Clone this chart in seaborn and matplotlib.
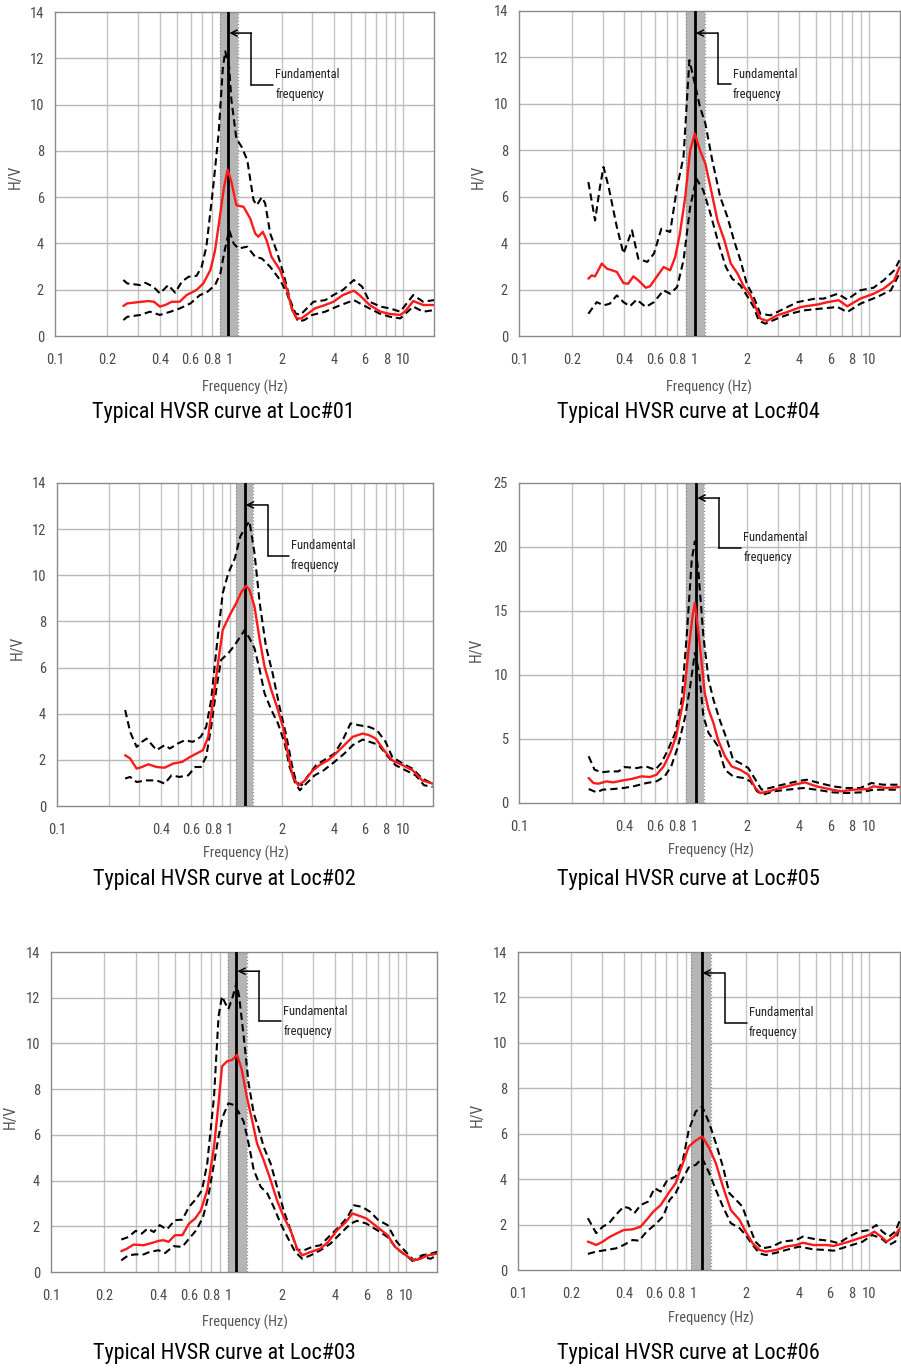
import os
import numpy as np
import matplotlib
matplotlib.use("Agg")
import matplotlib.pyplot as plt
import seaborn as sns
from matplotlib import font_manager
from matplotlib.font_manager import FontProperties
from matplotlib.ticker import FixedLocator, NullFormatter

# ---------------- DATA ----------------
x_ticks_full = [0.1, 0.2, 0.4, 0.6, 0.8, 1, 2, 4, 6, 8, 10]
x_ticks_no02 = [0.1, 0.4, 0.6, 0.8, 1, 2, 4, 6, 8, 10]
x_minor = [0.2, 0.3, 0.4, 0.5, 0.6, 0.7, 0.8, 0.9, 1, 2, 3, 4, 5, 6, 7, 8, 9, 10]

titles = ["Typical HVSR curve at Loc#01", "Typical HVSR curve at Loc#04",
          "Typical HVSR curve at Loc#02", "Typical HVSR curve at Loc#05",
          "Typical HVSR curve at Loc#03", "Typical HVSR curve at Loc#06"]

f0_values = [0.99, 1.01, 1.22, 1.03, 1.11, 1.11]
band_low = [0.89, 0.90, 1.08, 0.90, 0.99, 0.97]
band_high = [1.12, 1.16, 1.37, 1.14, 1.28, 1.25]
y_max = [14, 14, 14, 25, 14, 14]
y_step = [2, 2, 2, 5, 2, 2]

# Loc#01
loc01_f_mean = [0.247, 0.26, 0.344, 0.37, 0.40, 0.43, 0.468, 0.52, 0.57, 0.65, 0.71, 0.78, 0.83, 0.89, 0.935, 0.98, 1.03, 1.10, 1.21, 1.32, 1.41, 1.47, 1.56, 1.64, 1.75, 1.96, 2.15, 2.3, 2.45, 2.6, 2.85, 3.1, 3.56, 3.97, 4.5, 5.2, 5.6, 6.4, 7.4, 8.4, 9.6, 10.2, 11.4, 13, 15]
loc01_mean = [1.30, 1.41, 1.51, 1.48, 1.27, 1.34, 1.48, 1.48, 1.77, 1.99, 2.27, 2.85, 3.7, 5.3, 6.45, 7.19, 6.66, 5.65, 5.58, 5.08, 4.43, 4.29, 4.5, 4.14, 3.42, 2.85, 1.99, 1.12, 0.76, 0.76, 0.98, 1.19, 1.34, 1.48, 1.77, 1.96, 1.77, 1.34, 1.05, 0.95, 0.91, 1.05, 1.51, 1.34, 1.34]
loc01_f_up = [0.247, 0.26, 0.31, 0.33, 0.367, 0.40, 0.447, 0.49, 0.535, 0.585, 0.65, 0.695, 0.74, 0.81, 0.87, 0.92, 0.95, 1.0, 1.03, 1.10, 1.18, 1.27, 1.38, 1.44, 1.54, 1.61, 1.72, 1.88, 2.05, 2.24, 2.4, 2.56, 2.73, 3.05, 3.56, 3.97, 4.5, 5.2, 5.8, 6.4, 7.4, 8.4, 9.6, 11.4, 13, 15]
loc01_up = [2.42, 2.27, 2.2, 2.3, 2.13, 1.84, 2.2, 1.87, 2.35, 2.56, 2.6, 2.99, 3.86, 6.45, 8.75, 11.6, 12.3, 11.6, 10.2, 8.53, 8.17, 7.6, 5.87, 5.65, 6.0, 5.73, 4.43, 3.64, 2.7, 1.55, 0.98, 0.91, 1.12, 1.48, 1.55, 1.77, 1.99, 2.42, 2.13, 1.48, 1.27, 1.19, 1.05, 1.77, 1.48, 1.55]
loc01_f_lo = [0.247, 0.26, 0.31, 0.35, 0.40, 0.46, 0.52, 0.60, 0.68, 0.74, 0.83, 0.89, 0.935, 1.0, 1.06, 1.13, 1.27, 1.41, 1.54, 1.72, 1.96, 2.15, 2.35, 2.5, 2.7, 3.0, 3.56, 4.15, 5.2, 6.1, 7.4, 8.4, 9.6, 11.4, 13, 15]
loc01_lo = [0.69, 0.83, 0.91, 1.05, 0.91, 1.05, 1.19, 1.41, 1.77, 1.87, 2.2, 2.7, 3.57, 4.58, 4.0, 3.78, 3.86, 3.42, 3.35, 2.99, 2.42, 1.84, 0.98, 0.62, 0.69, 0.91, 1.05, 1.27, 1.55, 1.27, 0.95, 0.83, 0.76, 1.27, 1.05, 1.12]

# Loc#04
loc04_f_mean = [0.249, 0.26, 0.272, 0.297, 0.318, 0.34, 0.362, 0.395, 0.42, 0.45, 0.48, 0.53, 0.56, 0.61, 0.67, 0.73, 0.78, 0.83, 0.89, 0.95, 1.01, 1.08, 1.16, 1.24, 1.36, 1.49, 1.62, 1.77, 1.93, 2.1, 2.24, 2.39, 2.61, 2.98, 3.4, 4.07, 5.1, 5.8, 6.7, 7.5, 8.9, 10.6, 12.1, 13.9, 14.9]
loc04_mean = [2.47, 2.61, 2.57, 3.12, 2.9, 2.83, 2.76, 2.28, 2.25, 2.57, 2.4, 2.08, 2.14, 2.54, 2.97, 2.83, 3.4, 4.41, 5.99, 8.0, 8.72, 8.0, 7.42, 6.42, 4.98, 4.12, 3.12, 2.69, 2.11, 1.75, 1.25, 0.75, 0.65, 0.89, 1.03, 1.25, 1.36, 1.46, 1.54, 1.28, 1.61, 1.82, 2.04, 2.4, 2.97]
loc04_f_up = [0.249, 0.272, 0.29, 0.304, 0.325, 0.362, 0.395, 0.442, 0.48, 0.54, 0.59, 0.65, 0.73, 0.8, 0.87, 0.94, 1.01, 1.08, 1.16, 1.27, 1.41, 1.55, 1.69, 1.84, 2.0, 2.19, 2.39, 2.73, 3.27, 3.9, 4.9, 5.5, 6.6, 7.5, 8.9, 10.6, 12.1, 13.9, 14.9]
loc04_up = [6.63, 4.98, 6.42, 7.28, 6.42, 4.7, 3.55, 4.55, 3.33, 3.19, 3.55, 4.62, 4.48, 6.42, 7.71, 11.88, 10.87, 9.87, 9.15, 7.57, 5.99, 5.13, 4.12, 3.26, 2.25, 1.68, 0.96, 0.89, 1.18, 1.46, 1.61, 1.61, 1.82, 1.57, 1.97, 2.08, 2.4, 2.83, 3.26]
loc04_f_lo = [0.249, 0.278, 0.304, 0.33, 0.362, 0.395, 0.43, 0.47, 0.53, 0.59, 0.67, 0.73, 0.8, 0.87, 0.95, 1.03, 1.13, 1.24, 1.38, 1.52, 1.65, 1.84, 2.0, 2.19, 2.34, 2.55, 2.98, 3.55, 4.2, 5.3, 6.6, 7.5, 8.9, 11.1, 13.3, 14.9]
loc04_lo = [0.96, 1.46, 1.32, 1.39, 1.75, 1.46, 1.28, 1.57, 1.25, 1.46, 1.97, 1.82, 2.11, 3.26, 5.56, 6.78, 6.27, 5.27, 3.98, 2.97, 2.47, 2.18, 1.75, 1.25, 0.67, 0.53, 0.75, 0.96, 1.1, 1.18, 1.25, 1.03, 1.39, 1.68, 1.97, 2.69]

# Loc#02
loc02_f_mean = [0.248, 0.265, 0.289, 0.31, 0.338, 0.377, 0.42, 0.47, 0.53, 0.59, 0.64, 0.70, 0.75, 0.8, 0.86, 0.91, 1.0, 1.09, 1.17, 1.24, 1.30, 1.39, 1.49, 1.59, 1.74, 1.9, 2.03, 2.17, 2.32, 2.49, 2.73, 2.97, 3.3, 3.7, 4.1, 4.6, 5.15, 5.88, 6.4, 7.0, 7.8, 8.7, 10, 11.4, 13.0, 14.9]
loc02_mean = [2.2, 2.06, 1.62, 1.69, 1.81, 1.69, 1.66, 1.84, 1.91, 2.13, 2.27, 2.42, 3.0, 4.59, 6.33, 7.63, 8.28, 8.79, 9.29, 9.54, 9.37, 8.64, 7.2, 6.04, 5.02, 4.16, 3.43, 2.27, 1.26, 0.9, 1.11, 1.48, 1.77, 1.98, 2.27, 2.64, 3.0, 3.14, 3.07, 2.92, 2.42, 1.98, 1.77, 1.55, 1.11, 0.97]
loc02_f_up = [0.248, 0.265, 0.289, 0.31, 0.33, 0.377, 0.42, 0.45, 0.50, 0.55, 0.61, 0.68, 0.73, 0.78, 0.84, 0.91, 0.98, 1.07, 1.15, 1.24, 1.30, 1.39, 1.49, 1.62, 1.77, 1.94, 2.13, 2.29, 2.42, 2.6, 2.85, 3.16, 3.5, 4.03, 4.5, 5.0, 5.6, 6.4, 7.1, 7.98, 8.7, 10, 11.4, 13.0, 14.9]
loc02_up = [4.16, 3.21, 2.56, 2.78, 2.92, 2.42, 2.64, 2.49, 2.71, 2.85, 2.78, 3.0, 3.43, 4.59, 6.91, 9.22, 10.09, 10.74, 11.68, 12.12, 12.34, 10.96, 8.79, 6.91, 5.75, 4.3, 3.0, 1.77, 1.04, 0.9, 1.33, 1.77, 1.98, 2.27, 2.85, 3.58, 3.5, 3.43, 3.29, 2.78, 2.13, 1.84, 1.62, 1.19, 0.97]
loc02_f_lo = [0.248, 0.265, 0.289, 0.33, 0.377, 0.42, 0.46, 0.51, 0.575, 0.63, 0.68, 0.73, 0.78, 0.84, 0.89, 0.98, 1.07, 1.15, 1.22, 1.30, 1.39, 1.49, 1.59, 1.74, 1.9, 2.08, 2.22, 2.38, 2.54, 2.77, 3.1, 3.5, 4.03, 4.6, 5.15, 5.88, 6.7, 7.3, 8.1, 9.1, 10.4, 11.9, 13.3, 14.9]
loc02_lo = [1.19, 1.26, 1.04, 1.11, 1.11, 0.97, 1.33, 1.26, 1.33, 1.69, 1.69, 2.13, 3.43, 5.17, 6.33, 6.62, 6.98, 7.34, 7.63, 7.27, 6.83, 5.89, 4.88, 4.16, 3.58, 2.71, 1.69, 1.04, 0.68, 0.97, 1.33, 1.55, 1.91, 2.27, 2.64, 2.88, 2.74, 2.64, 2.2, 1.77, 1.55, 1.33, 0.9, 0.83]

# Loc#05
loc05_f_mean = [0.25, 0.266, 0.284, 0.317, 0.345, 0.394, 0.44, 0.50, 0.56, 0.61, 0.67, 0.73, 0.79, 0.87, 0.93, 0.98, 1.01, 1.06, 1.11, 1.15, 1.21, 1.29, 1.37, 1.5, 1.64, 1.83, 2.04, 2.24, 2.39, 2.67, 3.1, 3.7, 4.3, 5.0, 5.9, 6.9, 8.1, 9.8, 10.6, 12.6, 15]
loc05_mean = [1.95, 1.56, 1.51, 1.69, 1.61, 1.77, 1.88, 2.08, 2.03, 2.21, 2.86, 3.9, 5.21, 8.07, 11.98, 14.58, 15.63, 13.28, 10.68, 8.59, 7.29, 6.25, 4.95, 3.65, 2.86, 2.6, 2.21, 1.17, 0.78, 0.91, 1.17, 1.43, 1.61, 1.3, 1.09, 0.91, 1.04, 1.09, 1.3, 1.17, 1.25]
loc05_f_up = [0.25, 0.27, 0.297, 0.33, 0.37, 0.4, 0.47, 0.53, 0.6, 0.65, 0.71, 0.78, 0.85, 0.91, 0.97, 1.01, 1.06, 1.13, 1.21, 1.29, 1.40, 1.54, 1.67, 1.83, 2.04, 2.24, 2.43, 2.7, 3.2, 3.86, 4.4, 5.2, 6.2, 7.4, 8.9, 10.3, 12, 15]
loc05_up = [3.65, 2.6, 2.4, 2.47, 2.47, 2.81, 2.73, 2.86, 2.6, 3.12, 4.17, 5.47, 8.07, 13.28, 19.01, 20.44, 17.97, 13.02, 9.64, 8.07, 6.51, 4.95, 3.39, 3.12, 2.73, 1.82, 1.04, 1.17, 1.43, 1.69, 1.82, 1.56, 1.3, 1.17, 1.17, 1.56, 1.43, 1.43]
loc05_f_lo = [0.25, 0.278, 0.3, 0.345, 0.394, 0.45, 0.535, 0.61, 0.68, 0.74, 0.81, 0.89, 0.95, 1.01, 1.07, 1.13, 1.21, 1.29, 1.37, 1.5, 1.67, 1.92, 2.1, 2.29, 2.47, 2.85, 3.4, 4.2, 5.0, 6.2, 7.4, 8.9, 10.6, 12.6, 15]
loc05_lo = [1.09, 0.83, 1.04, 1.09, 1.17, 1.3, 1.56, 1.69, 2.08, 2.86, 4.43, 6.77, 9.11, 11.72, 10.16, 6.77, 5.47, 4.95, 4.43, 2.6, 2.08, 1.95, 1.69, 0.91, 0.65, 0.91, 1.04, 1.17, 1.04, 0.83, 0.78, 0.83, 1.04, 1.04, 1.04]

# Loc#03
loc03_f_mean = [0.249, 0.268, 0.292, 0.333, 0.37, 0.404, 0.43, 0.46, 0.5, 0.55, 0.6, 0.65, 0.70, 0.76, 0.83, 0.88, 0.92, 0.98, 1.05, 1.12, 1.19, 1.27, 1.36, 1.45, 1.58, 1.73, 1.88, 2.05, 2.24, 2.44, 2.61, 2.91, 3.3, 3.66, 4.1, 4.6, 5.0, 5.55, 6.0, 6.7, 7.9, 8.7, 10, 11.1, 12.1, 13.4, 15]
loc03_mean = [0.91, 1.02, 1.2, 1.17, 1.27, 1.36, 1.39, 1.32, 1.61, 1.61, 2.12, 2.34, 2.7, 3.58, 5.48, 7.38, 8.99, 9.21, 9.28, 9.5, 8.84, 7.67, 6.65, 5.63, 4.9, 4.02, 3.14, 2.41, 1.83, 1.02, 0.73, 0.88, 1.02, 1.32, 1.83, 2.19, 2.56, 2.44, 2.34, 2.05, 1.61, 1.1, 0.73, 0.51, 0.58, 0.73, 0.8]
loc03_f_up = [0.249, 0.273, 0.3, 0.325, 0.35, 0.38, 0.41, 0.45, 0.5, 0.55, 0.6, 0.66, 0.71, 0.76, 0.83, 0.88, 0.92, 0.96, 1.0, 1.06, 1.11, 1.15, 1.22, 1.30, 1.39, 1.49, 1.58, 1.73, 1.88, 2.05, 2.24, 2.44, 2.67, 2.97, 3.3, 3.76, 4.2, 4.7, 5.1, 5.67, 6.3, 7.0, 7.9, 8.9, 10, 11.1, 12.3, 13.8, 15]
loc03_up = [1.42, 1.53, 1.8, 1.68, 1.9, 1.75, 2.05, 1.86, 2.27, 2.29, 2.85, 3.21, 3.58, 4.75, 7.67, 11.18, 12.06, 11.76, 11.5, 12.06, 12.64, 12.06, 10.3, 8.26, 6.94, 6.21, 5.48, 4.75, 3.73, 2.7, 1.83, 0.98, 0.95, 1.1, 1.17, 1.61, 1.97, 2.41, 2.92, 2.85, 2.63, 2.27, 2.05, 1.32, 0.88, 0.51, 0.73, 0.8, 0.88]
loc03_f_lo = [0.249, 0.273, 0.3, 0.333, 0.36, 0.404, 0.44, 0.49, 0.55, 0.6, 0.66, 0.72, 0.77, 0.83, 0.88, 0.93, 1.0, 1.07, 1.14, 1.22, 1.30, 1.39, 1.52, 1.66, 1.8, 1.97, 2.15, 2.38, 2.61, 2.91, 3.3, 3.76, 4.28, 4.9, 5.3, 6.0, 6.9, 7.9, 8.9, 10, 11.1, 12.3, 13.8, 15]
loc03_lo = [0.51, 0.73, 0.77, 0.77, 0.88, 0.95, 0.83, 1.13, 1.1, 1.46, 1.83, 2.41, 3.29, 4.75, 5.92, 6.8, 7.38, 7.31, 7.01, 6.58, 5.63, 4.46, 3.73, 3.43, 2.85, 2.12, 1.53, 0.88, 0.58, 0.73, 0.95, 1.24, 1.68, 2.12, 2.24, 2.12, 1.83, 1.53, 1.02, 0.73, 0.44, 0.66, 0.58, 0.73]

# Loc#06
loc06_f_mean = [0.25, 0.26, 0.279, 0.304, 0.33, 0.36, 0.4, 0.45, 0.5, 0.55, 0.59, 0.65, 0.73, 0.79, 0.87, 0.94, 1.03, 1.12, 1.23, 1.34, 1.47, 1.63, 1.83, 1.98, 2.17, 2.38, 2.58, 2.96, 3.36, 3.84, 4.2, 4.8, 5.7, 6.3, 7.7, 8.8, 10, 10.7, 11.7, 12.6, 13.9, 15]
loc06_mean = [1.25, 1.2, 1.1, 1.25, 1.44, 1.59, 1.76, 1.79, 1.91, 2.28, 2.57, 2.86, 3.45, 3.82, 4.7, 5.44, 5.7, 5.88, 5.36, 4.7, 3.67, 2.64, 2.2, 1.69, 1.18, 0.88, 0.81, 0.88, 1.03, 1.1, 1.2, 1.1, 1.1, 1.06, 1.25, 1.4, 1.54, 1.69, 1.47, 1.25, 1.47, 1.84]
loc06_f_up = [0.25, 0.279, 0.304, 0.33, 0.36, 0.4, 0.43, 0.46, 0.5, 0.55, 0.6, 0.65, 0.71, 0.79, 0.87, 0.94, 1.03, 1.12, 1.23, 1.34, 1.47, 1.6, 1.75, 1.9, 2.08, 2.25, 2.46, 2.8, 3.2, 3.84, 4.2, 4.97, 5.9, 6.7, 7.7, 8.8, 10, 11, 11.9, 13, 14.1, 15]
loc06_up = [2.28, 1.62, 1.91, 2.06, 2.42, 2.79, 2.72, 2.5, 2.86, 3.01, 3.6, 3.45, 3.97, 4.11, 4.85, 6.17, 6.98, 7.2, 6.46, 5.58, 4.55, 3.38, 3.08, 2.79, 1.91, 1.25, 0.95, 1.03, 1.25, 1.32, 1.47, 1.35, 1.29, 1.18, 1.47, 1.69, 1.76, 1.98, 1.69, 1.47, 1.69, 2.2]
loc06_f_lo = [0.25, 0.279, 0.318, 0.36, 0.4, 0.45, 0.49, 0.54, 0.6, 0.67, 0.73, 0.79, 0.87, 0.94, 1.03, 1.12, 1.23, 1.34, 1.47, 1.63, 1.83, 1.98, 2.17, 2.38, 2.58, 2.96, 3.36, 4.0, 4.8, 5.7, 6.3, 7.7, 9.2, 10.4, 11.7, 13, 14.1, 15]
loc06_lo = [0.71, 0.81, 0.88, 0.95, 1.1, 1.32, 1.29, 1.69, 1.98, 2.35, 3.08, 3.38, 4.04, 4.52, 4.63, 4.92, 4.26, 3.53, 2.79, 2.06, 1.84, 1.54, 1.1, 0.73, 0.66, 0.76, 0.88, 1.03, 0.91, 0.88, 0.85, 1.06, 1.25, 1.54, 1.4, 1.1, 1.25, 1.91]

curves = [
    (loc01_f_mean, loc01_mean, loc01_f_up, loc01_up, loc01_f_lo, loc01_lo),
    (loc04_f_mean, loc04_mean, loc04_f_up, loc04_up, loc04_f_lo, loc04_lo),
    (loc02_f_mean, loc02_mean, loc02_f_up, loc02_up, loc02_f_lo, loc02_lo),
    (loc05_f_mean, loc05_mean, loc05_f_up, loc05_up, loc05_f_lo, loc05_lo),
    (loc03_f_mean, loc03_mean, loc03_f_up, loc03_up, loc03_f_lo, loc03_lo),
    (loc06_f_mean, loc06_mean, loc06_f_up, loc06_up, loc06_f_lo, loc06_lo),
]
tick_sets = [x_ticks_full, x_ticks_full, x_ticks_no02, x_ticks_no02, x_ticks_full, x_ticks_full]

# ---------------- LAYOUT (pixels) ----------------
W, H = 901, 1369
boxes = [(55, 434, 12, 336), (519, 900, 11, 336),
         (57, 433, 483, 806), (519, 900, 483, 803),
         (51, 437, 952, 1272), (518, 900, 952, 1270)]
xlabel_pos = [(245, 387), (709, 387), (246, 853), (711, 850), (245, 1322), (711, 1318)]
title_pos = [(223, 413), (688, 413), (224, 879), (688, 879), (224, 1353), (688, 1353)]
ylabel_pos = [(15, 177), (478, 177), (17, 648), (476, 650), (10, 1117), (477, 1115)]
arrow_y = [0.935, 0.932, 0.932, 0.953, 0.94, 0.934]
elbow_y = [0.775, 0.775, 0.774, 0.797, 0.784, 0.777]
text_off = [47, 38, 46, 47, 47, 47]

sns.set_theme(style="white")

# choose a narrow / condensed sans font if available
def pick_font():
    prefs = ["liberationsansnarrow-regular", "liberationsansnarrow", "arialn", "robotocondensed-regular",
             "opensans_condensed", "dejavusanscondensed."]
    found = {}
    for f in font_manager.fontManager.ttflist:
        fn = os.path.basename(f.fname).lower()
        found.setdefault(fn, f.fname)
    for p in prefs:
        for fn, path in found.items():
            if fn.startswith(p.rstrip(".")) and not any(k in fn for k in ("bold", "italic", "oblique", "light")):
                return path
    return None

narrow_path = pick_font()
plt.rcParams["font.family"] = ["Liberation Sans", "DejaVu Sans"]
if narrow_path:
    FP = lambda: FontProperties(fname=narrow_path)
else:
    FP = lambda: FontProperties(family=["Liberation Sans", "DejaVu Sans"])

fig = plt.figure(figsize=(W / 100, H / 100), dpi=100)
fig.patch.set_facecolor("white")
renderer = fig.canvas.get_renderer()


def fit(t, target, dim="w"):
    bb = t.get_window_extent(renderer)
    cur = bb.width if dim == "w" else bb.height
    if cur > 0:
        t.set_fontsize(t.get_fontsize() * target / cur)
    return t.get_fontsize()

# calibrate tick label size from the width of "0.1"
probe = fig.text(0, 0, "0.1", fontproperties=FP(), fontsize=10)
tick_size = fit(probe, 18)
probe.remove()

grid_col = "#c4c4c4"
for i in range(6):
    L, R, T, B = boxes[i]
    ax = fig.add_axes([L / W, 1 - B / H, (R - L) / W, (B - T) / H])
    ax.set_xscale("log")
    ax.set_xlim(0.1, 15)
    ax.set_ylim(0, y_max[i])
    ax.set_axisbelow(True)

    ticks = tick_sets[i]
    ax.xaxis.set_major_locator(FixedLocator(ticks))
    ax.set_xticklabels([("%g" % t) for t in ticks])
    ax.xaxis.set_minor_locator(FixedLocator(x_minor))
    ax.xaxis.set_minor_formatter(NullFormatter())
    ax.set_yticks(np.arange(0, y_max[i] + 0.1, y_step[i]))
    ax.tick_params(axis="x", which="both", length=0, pad=12, labelcolor="#4a4a4a")
    ax.tick_params(axis="y", length=0, pad=8, labelcolor="#4a4a4a")
    for lbl in ax.get_xticklabels() + ax.get_yticklabels():
        lbl.set_fontproperties(FP())
        lbl.set_fontsize(tick_size)
    for v in x_minor:
        ax.axvline(v, color=grid_col, lw=1.0, zorder=0)
    for v in np.arange(y_step[i], y_max[i], y_step[i]):
        ax.axhline(v, color="#b8b8b8", lw=1.0, zorder=0)
    for s in ax.spines.values():
        s.set_color("#8a8a8a")
        s.set_linewidth(1.0)

    # fundamental-frequency band
    ax.axvspan(band_low[i], band_high[i], color="#b5b5b5", lw=0, zorder=1)
    ax.axvline(band_low[i], color="#8c8c8c", lw=0.9, ls=":", zorder=2)
    ax.axvline(band_high[i], color="#8c8c8c", lw=0.9, ls=":", zorder=2)
    ax.axvline(f0_values[i], color="black", lw=2.0, zorder=3)

    fm, m, fu, u, fl, lo = curves[i]
    sns.lineplot(x=fu, y=u, ax=ax, color="black", lw=1.5, linestyle=(0, (3.5, 2)),
                 estimator=None, sort=False, zorder=4)
    sns.lineplot(x=fl, y=lo, ax=ax, color="black", lw=1.5, linestyle=(0, (3.5, 2)),
                 estimator=None, sort=False, zorder=4)
    sns.lineplot(x=fm, y=m, ax=ax, color="#ff1a1a", lw=1.7,
                 estimator=None, sort=False, zorder=5)
    ax.set_xlabel("")
    ax.set_ylabel("")

    # annotation connector
    dec = (R - L) / np.log10(15 / 0.1)
    f0 = f0_values[i]
    xe = f0 * 10 ** (23 / dec)
    xt = f0 * 10 ** (text_off[i] / dec)
    xt_line = f0 * 10 ** ((text_off[i] - 2) / dec)
    trans = ax.get_xaxis_transform()
    ax.plot([xe, xe], [arrow_y[i], elbow_y[i]], color="black", lw=1.1, transform=trans, zorder=6)
    ax.plot([xe, xt_line], [elbow_y[i], elbow_y[i]], color="black", lw=1.1, transform=trans, zorder=6)
    ax.annotate("", xy=(f0 * 10 ** (1 / dec), arrow_y[i]), xycoords=trans,
                xytext=(xe, arrow_y[i]), textcoords=trans,
                arrowprops=dict(arrowstyle="->", color="black", lw=1.1, mutation_scale=11,
                                shrinkA=0, shrinkB=0), zorder=6)
    t1 = ax.text(xt, elbow_y[i] + 10 / (B - T), "Fundamental", transform=trans, ha="left", va="center",
                 fontproperties=FP(), fontsize=10, color="#202020", zorder=6)
    fs = fit(t1, 64)
    ax.text(xt, elbow_y[i] - 10 / (B - T), "frequency", transform=trans, ha="left", va="center",
            fontproperties=FP(), fontsize=fs, color="#202020", zorder=6)

    # labels
    xl, yl = xlabel_pos[i]
    t = fig.text(xl / W, 1 - yl / H, "Frequency (Hz)", ha="center", va="center",
                 fontproperties=FP(), fontsize=11, color="#555555")
    fit(t, 86)
    xl, yl = ylabel_pos[i]
    t = fig.text(xl / W, 1 - yl / H, "H/V", ha="center", va="center", rotation=90,
                 fontproperties=FP(), fontsize=11, color="#555555")
    fit(t, 24, "h")
    xl, yl = title_pos[i]
    t = fig.text(xl / W, 1 - yl / H, titles[i], ha="center", va="center",
                 fontproperties=FP(), fontsize=16, color="black")
    fit(t, 264)

fig.savefig("out.png", dpi=100, facecolor="white")
